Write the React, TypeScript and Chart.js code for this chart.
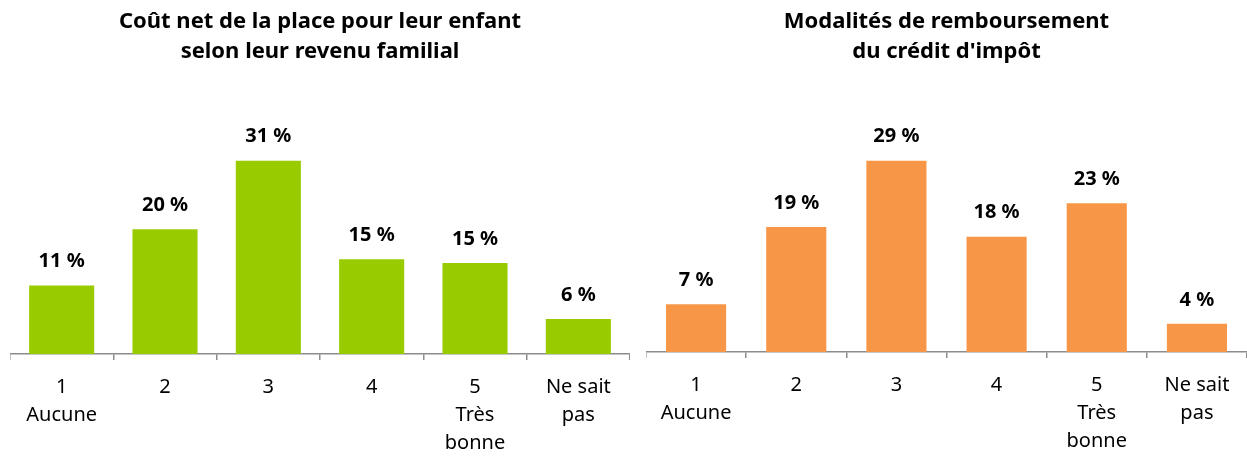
import React, { useEffect, useRef } from "react";
import { Chart, registerables } from "chart.js";

Chart.register(...registerables);

const categories: (string | string[])[] = [["1", "Aucune"], "2", "3", "4", ["5", "Très", "bonne"], ["Ne sait", "pas"]];
const coutValues = [11, 20, 31, 15.2, 14.6, 5.6];
const modalitesValues = [7.3, 19.1, 29.2, 17.6, 22.7, 4.3];
const coutTitle = ["Coût net de la place pour leur enfant", "selon leur revenu familial"];
const modalitesTitle = ["Modalités de remboursement", "du crédit d'impôt"];

const FONT = "'Noto Sans', 'Liberation Sans', sans-serif";

const labelPlugin = {
  id: "barLabels",
  afterDatasetsDraw(chart: any) {
    const ctx = chart.ctx;
    ctx.save();
    ctx.font = `bold 20px ${FONT}`;
    ctx.fillStyle = "#000";
    ctx.textAlign = "center";
    ctx.textBaseline = "middle";
    chart.data.datasets.forEach((ds: any, i: number) => {
      const meta = chart.getDatasetMeta(i);
      meta.data.forEach((el: any, j: number) => {
        ctx.fillText(`${Math.round(ds.data[j])} %`, el.x, el.y - 24);
      });
    });
    ctx.restore();
  },
};

function BarChart({ values, title, color, max, barPct, bottomPad, width, height }: any) {
  const ref = useRef<HTMLCanvasElement>(null);
  useEffect(() => {
    const chart = new Chart(ref.current!, {
      type: "bar",
      data: {
        labels: categories,
        datasets: [{ data: values, backgroundColor: color, barPercentage: barPct, categoryPercentage: 1 }],
      },
      options: {
        animation: false,
        responsive: false,
        maintainAspectRatio: false,
        layout: { padding: { top: 0, bottom: bottomPad, left: 0, right: 0 } },
        plugins: {
          legend: { display: false },
          tooltip: { enabled: false },
          title: {
            display: true,
            text: title,
            color: "#000",
            font: { family: FONT, size: 22, weight: "bold", lineHeight: 1.36 },
            padding: { top: 7, bottom: 69 },
          },
        },
        scales: {
          x: {
            grid: { display: true, drawOnChartArea: false, drawTicks: true, tickLength: 6, color: "#8c8c8c", lineWidth: 1.5, offset: true },
            border: { display: true, color: "#8c8c8c", width: 1.5 },
            ticks: { color: "#000", font: { family: FONT, size: 20, lineHeight: 1.4 }, padding: 13, maxRotation: 0, autoSkip: false },
          },
          y: { display: false, min: 0, max: max },
        },
      },
      plugins: [labelPlugin],
    });
    return () => chart.destroy();
  }, []);
  return <canvas ref={ref} width={width} height={height} style={{ display: "block", width, height }} />;
}

export default function App() {
  return (
    <div style={{ position: "fixed", left: 0, top: 0, width: 1247, height: 456, background: "#fff", overflow: "hidden" }}>
      <div style={{ position: "absolute", left: 10, top: 0, width: 620, height: 456, overflow: "hidden" }}>
        <BarChart width={620} height={473} values={coutValues} title={coutTitle} color="#99CC00" max={35} barPct={0.63} bottomPad={3} />
      </div>
      <div style={{ position: "absolute", left: 646, top: 0, width: 601, height: 456, overflow: "hidden" }}>
        <BarChart width={601} height={473} values={modalitesValues} title={modalitesTitle} color="#F79646" max={33} barPct={0.6} bottomPad={5} />
      </div>
    </div>
  );
}
